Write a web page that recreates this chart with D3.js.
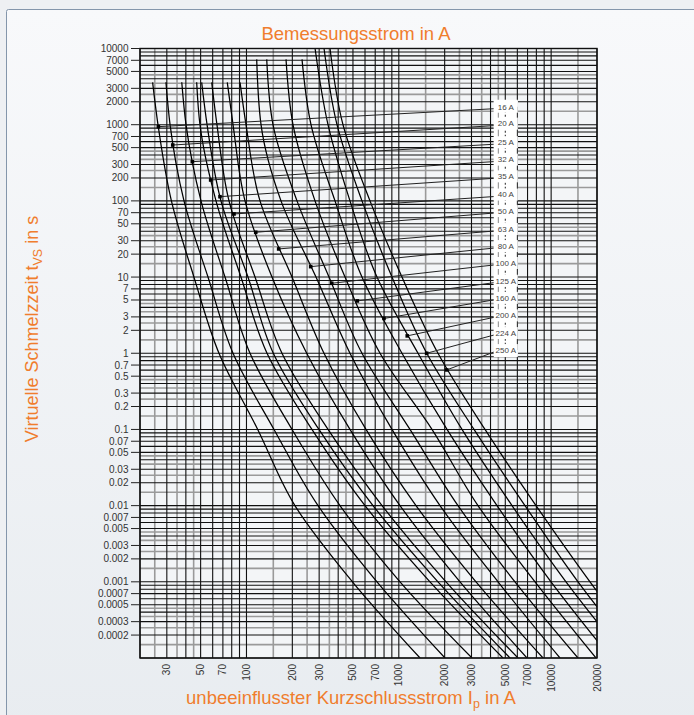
<!DOCTYPE html>
<html><head><meta charset="utf-8">
<script src="https://cdn.jsdelivr.net/npm/d3@7"></script>
<style>html,body{margin:0;padding:0;background:#eef0f3}svg{display:block}</style>
</head><body>
<svg id="chart" width="694" height="715"></svg>
<script>
// ---------- data ----------
const ratings = ["16 A","20 A","25 A","32 A","35 A","40 A","50 A","63 A","80 A","100 A","125 A","160 A","200 A","224 A","250 A"];
const yTicks = [10000,7000,5000,3000,2000,1000,700,500,300,200,100,70,50,30,20,10,7,5,3,2,1,0.7,0.5,0.3,0.2,0.1,0.07,0.05,0.03,0.02,0.01,0.007,0.005,0.003,0.002,0.001,0.0007,0.0005,0.0003,0.0002];
const xTicks = [30,50,70,100,200,300,500,700,1000,2000,3000,5000,7000,10000,20000];
const gridMain = [1,2,3,4,5,6,7,8,9];
const gridHalf = [1.5,2.5,3.5,4.5];

// melting curves: [current A, time s]
const c16  = [[24.2,3600],[26.25,1000],[32.15,100],[45.2,10],[66,1],[118.5,0.1],[208,0.01],[496,0.001],[1378,0.0001]];
const c20  = [[29.6,3600],[31.5,1000],[38.9,100],[55.9,10],[81.6,1],[151.6,0.1],[295,0.01],[719,0.001],[2010,0.0001]];
const c25  = [[37.6,3600],[40.1,1000],[50.3,100],[72.3,10],[105.5,1],[199,0.1],[411,0.01],[1018,0.001],[3023,0.0001]];
const c32  = [[47.1,3600],[49.5,1000],[63.1,100],[92,10],[136.4,1],[269,0.1],[600,0.01],[1602,0.001],[4831,0.0001]];
const c35  = [[50.8,3600],[55.1,1000],[68,100],[102.3,10],[150,1],[299,0.1],[677,0.01],[1808,0.001],[5370,0.0001]];
const c40  = [[59.1,3600],[64,1000],[76.8,100],[113.8,10],[171,1],[343,0.1],[776,0.01],[2041,0.001],[6059,0.0001]];
const c50  = [[74.8,3600],[81.6,1000],[97.8,100],[147,10],[248.5,1],[478,0.1],[1018,0.01],[2522,0.001],[6943,0.0001]];
const c63  = [[90.7,3600],[99.3,1000],[122.7,100],[199,10],[322.8,1],[609,0.1],[1297,0.01],[3212,0.001],[8844,0.0001]];
const c80  = [[116.7,7200],[124.6,1000],[168.5,100],[286,10],[478,1],[902,0.1],[1864,0.01],[4479,0.001],[11435,0.0001]];
const c100 = [[135.8,7200],[149.3,1000],[214.6,100],[348,10],[573,1],[1184,0.1],[2447,0.01],[5790,0.001],[15009,0.0001]];
const c125 = [[181.8,7200],[202,1000],[281.8,100],[443.5,10],[753,1],[1651,0.1],[3311,0.01],[7838,0.001],[19703,0.0001]];
const c160 = [[231.5,7200],[265.2,1000],[381.2,100],[573,10],[1049,1],[2072,0.1],[4412,0.01],[9979,0.001],[24717,0.0001]];
const c200 = [[282,10000],[342.9,1000],[478,100],[719,10],[1337,1],[2599,0.1],[5536,0.01],[12519,0.001],[31000,0.0001]];
const c224 = [[323,10000],[392.9,1000],[573,100],[902,10],[1525,1],[3116,0.1],[6735,0.01],[15009,0.001],[37170,0.0001]];
const c250 = [[353.5,10000],[430,1000],[647,100],[1049,10],[1808,1],[3680,0.1],[7957,0.01],[17994,0.001],[43240,0.0001]];
const curves = [c16,c20,c25,c32,c35,c40,c50,c63,c80,c100,c125,c160,c200,c224,c250];

// marker points on each curve (leader line targets)
const dotCurrent = [26.4,32.8,44.1,58.2,67.0,82.8,115,162.7,264,362.8,534,799,1136,1524,2063];
const dotTime    = [942,541,327,188,113.5,67.3,38.7,23.4,13.7,8.29,4.86,2.86,1.69,1.0,0.604];
// label column: position along the time axis where each label sits
const labelTime  = [1720,1032,588,348,210,121,73.5,42.7,25.5,15.3,8.95,5.33,3.14,1.84,1.1];
const labelCurrent = 5000;

// ---------- drawing ----------
const svg = d3.select("#chart");
const W = 694, H = 715;
const m = {left:140, right:597, top:48.5, bottom:658};
const x = d3.scaleLog().domain([20,20000]).range([m.left, m.right]);
const y = d3.scaleLog().domain([0.0001,10000]).range([m.bottom, m.top]);
const font = "Liberation Sans, Arial, sans-serif";

const defs = svg.append("defs");
const g1 = defs.append("linearGradient").attr("id","panelGrad").attr("x1",0).attr("y1",0).attr("x2",0).attr("y2",1);
g1.append("stop").attr("offset","0%").attr("stop-color","#f8f9fb");
g1.append("stop").attr("offset","100%").attr("stop-color","#e8ecf0");
defs.append("clipPath").attr("id","plotClip").append("rect")
  .attr("x",m.left).attr("y",m.top).attr("width",m.right-m.left).attr("height",m.bottom-m.top);

svg.append("rect").attr("width",W).attr("height",H).attr("fill","#eef0f3");
svg.append("rect").attr("x",6.5).attr("y",9.5).attr("width",W+10).attr("height",H+10)
  .attr("rx",2).attr("fill","url(#panelGrad)").attr("stroke","#8496ab").attr("stroke-width",1);

// plot background
svg.append("rect").attr("x",m.left).attr("y",m.top).attr("width",m.right-m.left).attr("height",m.bottom-m.top)
  .attr("fill","#f3f5f7");

// grid values
function gridVals(lo, hi, mults){
  const out=[];
  for(let e=-5;e<=5;e++) for(const k of mults){ const v=k*Math.pow(10,e); if(v>=lo*0.999 && v<=hi*1.001) out.push(v);} 
  return out;
}
const grid = svg.append("g");
const vHalf = gridVals(20,20000,gridHalf), vMain = gridVals(20,20000,gridMain);
const hHalf = gridVals(0.0001,10000,gridHalf), hMain = gridVals(0.0001,10000,gridMain);
grid.selectAll(".vh").data(vHalf).join("line").attr("x1",d=>x(d)).attr("x2",d=>x(d)).attr("y1",m.top).attr("y2",m.bottom)
  .attr("stroke","#9a9a9a").attr("stroke-width",1.6);
grid.selectAll(".hh").data(hHalf).join("line").attr("y1",d=>y(d)).attr("y2",d=>y(d)).attr("x1",m.left).attr("x2",m.right)
  .attr("stroke","#9a9a9a").attr("stroke-width",1.6);
grid.selectAll(".vm").data(vMain).join("line").attr("x1",d=>x(d)).attr("x2",d=>x(d)).attr("y1",m.top).attr("y2",m.bottom)
  .attr("stroke","#111").attr("stroke-width",1.1);
grid.selectAll(".hm").data(hMain).join("line").attr("y1",d=>y(d)).attr("y2",d=>y(d)).attr("x1",m.left).attr("x2",m.right)
  .attr("stroke","#111").attr("stroke-width",1.1);

// curves
const line = d3.line().x(d=>x(d[0])).y(d=>y(d[1])).curve(d3.curveMonotoneY);
const cg = svg.append("g").attr("clip-path","url(#plotClip)");
cg.selectAll("path.curve").data(curves).join("path").attr("class","curve")
  .attr("d",d=>line(d.slice().sort((a,b)=>b[1]-a[1]))).attr("fill","none").attr("stroke","#000").attr("stroke-width",1.25);

// label column
const colX0 = x(labelCurrent)-11.5, colW = 24;
svg.append("rect").attr("x",colX0).attr("y",y(labelTime[0])-7).attr("width",colW)
  .attr("height",y(labelTime[labelTime.length-1])-y(labelTime[0])+14).attr("fill","#fff");
const colLines = [4500,5000,6000];
svg.selectAll("line.col").data(colLines).join("line").attr("class","col")
  .attr("x1",d=>x(d)).attr("x2",d=>x(d)).attr("y1",y(labelTime[0])).attr("y2",y(labelTime[labelTime.length-1]))
  .attr("stroke",(d,i)=>i===0?"#888":"#222").attr("stroke-width",1).attr("stroke-dasharray",(d,i)=>i===1?"2,2":null);

// leaders & markers
const leaders = svg.append("g");
ratings.forEach((r,i)=>{
  leaders.append("line").attr("x1",x(dotCurrent[i])).attr("y1",y(dotTime[i]))
    .attr("x2",colX0).attr("y2",y(labelTime[i])+2).attr("stroke","#222").attr("stroke-width",1);
  leaders.append("rect").attr("x",x(dotCurrent[i])-1.8).attr("y",y(dotTime[i])-1.8).attr("width",3.6).attr("height",3.6).attr("fill","#000");
  leaders.append("rect").attr("x",colX0).attr("y",y(labelTime[i])-6).attr("width",colW).attr("height",12).attr("fill","#fff");
  leaders.append("text").attr("x",colX0+colW/2).attr("y",y(labelTime[i])).attr("dy","0.35em")
    .attr("text-anchor","middle").attr("font-family",font).attr("font-size",8)
    .attr("fill","#444").text(r);
});

// border of plot
svg.append("rect").attr("x",m.left).attr("y",m.top).attr("width",m.right-m.left).attr("height",m.bottom-m.top)
  .attr("fill","none").attr("stroke","#111").attr("stroke-width",1.4);

// y axis ticks
const ya = svg.append("g");
ya.selectAll("line").data(yTicks).join("line").attr("x1",m.left-9).attr("x2",m.left).attr("y1",d=>y(d)).attr("y2",d=>y(d))
  .attr("stroke","#222").attr("stroke-width",1);
ya.selectAll("text").data(yTicks).join("text").attr("x",m.left-11.5).attr("y",d=>y(d)).attr("dy","0.35em")
  .attr("text-anchor","end").attr("font-family",font).attr("font-size",10).attr("fill","#333")
  .text(d=>String(d));

// x axis labels (rotated)
const xa = svg.append("g");
xa.selectAll("text").data(xTicks).join("text")
  .attr("transform",d=>`translate(${x(d)},${m.bottom+6}) rotate(-90)`).attr("dy","0.35em")
  .attr("text-anchor","end").attr("font-family",font).attr("font-size",10).attr("fill","#333")
  .text(d=>String(d));

// titles
const orange = "#f07d2d";
svg.append("text").attr("x",356).attr("y",39.5).attr("text-anchor","middle").attr("font-family",font)
  .attr("font-size",18.5).attr("fill",orange).text("Bemessungsstrom in A");
const bt = svg.append("text").attr("x",351).attr("y",704).attr("text-anchor","middle").attr("font-family",font)
  .attr("font-size",18.5).attr("fill",orange);
bt.append("tspan").text("unbeeinflusster Kurzschlussstrom I");
bt.append("tspan").attr("font-size",12.5).attr("dy",4).text("p");
bt.append("tspan").attr("dy",-4).text(" in A");
const lt = svg.append("text").attr("transform","translate(38,329) rotate(-90)").attr("text-anchor","middle")
  .attr("font-family",font).attr("font-size",18).attr("fill",orange);
lt.append("tspan").text("Virtuelle Schmelzzeit t");
lt.append("tspan").attr("font-size",12.5).attr("dy",4).text("VS");
lt.append("tspan").attr("dy",-4).text(" in s");
</script>
</body></html>
